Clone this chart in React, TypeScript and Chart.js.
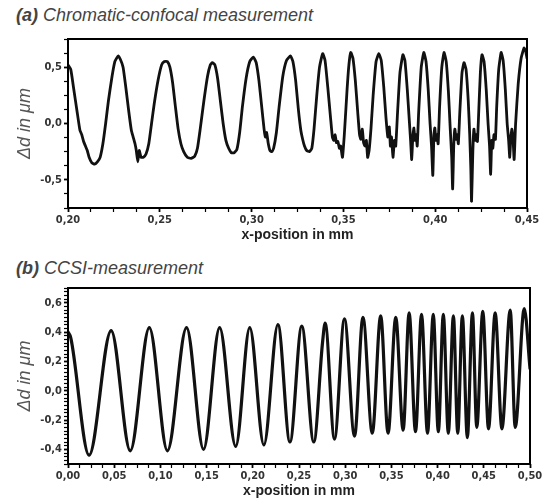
import React, { useEffect, useRef } from 'react';
import { Chart, registerables } from 'chart.js';

Chart.register(...registerables);

// ---------- Panel (a): chromatic-confocal measurement ----------
const aX = [
  0.2000, 0.2015, 0.2030, 0.2050, 0.2065, 0.2075, 0.2085, 0.2095, 0.2105, 0.2115, 0.2130, 0.2145, 0.2160, 0.2175, 0.2190, 0.2205, 0.2220, 0.2240, 0.2255, 0.2265,
  0.2273, 0.2285, 0.2300, 0.2315, 0.2330, 0.2345, 0.2355, 0.2365, 0.2372, 0.2380, 0.2388, 0.2398, 0.2410, 0.2425, 0.2440, 0.2455, 0.2470, 0.2490, 0.2510, 0.2525,
  0.2541, 0.2555, 0.2570, 0.2585, 0.2600, 0.2615, 0.2630, 0.2650, 0.2670, 0.2690, 0.2705, 0.2720, 0.2740, 0.2760, 0.2775,
  0.2786, 0.2800, 0.2815, 0.2830, 0.2845, 0.2860, 0.2875, 0.2890, 0.2905, 0.2920, 0.2935, 0.2950, 0.2970, 0.2990,
  0.3010, 0.3025, 0.3040, 0.3055, 0.3068, 0.3075, 0.3082, 0.3090, 0.3100, 0.3110, 0.3120, 0.3135, 0.3150, 0.3170, 0.3190,
  0.3212, 0.3225, 0.3240, 0.3255, 0.3268, 0.3278, 0.3288, 0.3300, 0.3315, 0.3328, 0.3340, 0.3355, 0.3370,
  0.3387, 0.3400, 0.3415, 0.3430, 0.3440, 0.3448, 0.3455, 0.3462, 0.3470, 0.3478, 0.3485, 0.3495, 0.3505, 0.3520, 0.3530,
  0.3540, 0.3552, 0.3565, 0.3578, 0.3588, 0.3595, 0.3603, 0.3610, 0.3618, 0.3625, 0.3632, 0.3640, 0.3650, 0.3662, 0.3678,
  0.3693, 0.3706, 0.3720, 0.3732, 0.3742, 0.3750, 0.3756, 0.3762, 0.3770, 0.3778, 0.3785, 0.3795, 0.3808,
  0.3824, 0.3835, 0.3848, 0.3858, 0.3866, 0.3872, 0.3878, 0.3884, 0.3890, 0.3896, 0.3902, 0.3910, 0.3924,
  0.3938, 0.3950, 0.3962, 0.3972, 0.3980, 0.3987, 0.3993, 0.3998, 0.4004, 0.4010, 0.4016, 0.4024, 0.4036,
  0.4048, 0.4060, 0.4072, 0.4082, 0.4090, 0.4095, 0.4101, 0.4107, 0.4114, 0.4120, 0.4126, 0.4134, 0.4146,
  0.4157, 0.4168, 0.4180, 0.4188, 0.4194, 0.4198, 0.4205, 0.4211, 0.4218, 0.4224, 0.4230, 0.4237, 0.4246,
  0.4255, 0.4266, 0.4278, 0.4288, 0.4296, 0.4302, 0.4308, 0.4314, 0.4320, 0.4328, 0.4335, 0.4346,
  0.4359, 0.4370, 0.4382, 0.4392, 0.4400, 0.4406, 0.4412, 0.4418, 0.4424, 0.4430, 0.4438, 0.4452, 0.4468,
  0.4484, 0.4493, 0.4500,
];
const aY = [
  0.52, 0.48, 0.32, 0.10, -0.06, -0.10, -0.16, -0.20, -0.24, -0.30, -0.35, -0.36, -0.34, -0.30, -0.18, 0.00, 0.20, 0.42, 0.55, 0.58,
  0.60, 0.57, 0.50, 0.32, 0.12, -0.06, -0.12, -0.18, -0.24, -0.34, -0.24, -0.30, -0.30, -0.27, -0.18, 0.00, 0.18, 0.38, 0.52, 0.55,
  0.55, 0.50, 0.36, 0.15, -0.05, -0.18, -0.25, -0.30, -0.31, -0.29, -0.22, -0.05, 0.20, 0.42, 0.52,
  0.54, 0.52, 0.40, 0.20, 0.00, -0.15, -0.22, -0.26, -0.26, -0.23, -0.08, 0.15, 0.40, 0.55,
  0.59, 0.54, 0.38, 0.15, -0.05, -0.12, -0.08, -0.17, -0.24, -0.25, -0.22, -0.08, 0.15, 0.42, 0.56,
  0.60, 0.55, 0.38, 0.12, -0.06, -0.14, -0.20, -0.24, -0.25, -0.22, -0.05, 0.25, 0.50,
  0.62, 0.56, 0.32, 0.05, -0.12, -0.15, -0.10, -0.17, -0.16, -0.22, -0.20, -0.30, -0.10, 0.30, 0.52,
  0.63, 0.58, 0.38, 0.10, -0.10, -0.14, -0.05, -0.17, -0.20, -0.15, -0.30, -0.24, -0.05, 0.25, 0.55,
  0.62, 0.56, 0.32, 0.05, -0.12, -0.03, -0.20, -0.12, -0.30, -0.15, -0.20, 0.10, 0.45,
  0.61, 0.56, 0.30, 0.05, -0.15, -0.32, -0.12, -0.04, -0.15, -0.10, -0.20, 0.10, 0.50,
  0.63, 0.55, 0.30, 0.00, -0.20, -0.46, -0.10, -0.04, -0.15, -0.10, -0.18, 0.15, 0.50,
  0.63, 0.55, 0.28, -0.05, -0.30, -0.58, -0.20, -0.05, -0.14, -0.10, -0.18, 0.10, 0.45,
  0.54, 0.48, 0.20, -0.10, -0.40, -0.69, -0.25, -0.05, -0.15, -0.10, -0.16, 0.10, 0.45,
  0.61, 0.55, 0.30, 0.00, -0.20, -0.45, -0.15, -0.22, -0.10, -0.14, 0.15, 0.48,
  0.63, 0.56, 0.30, 0.00, -0.15, -0.30, -0.12, -0.05, -0.14, -0.32, 0.00, 0.35, 0.58,
  0.67, 0.64, 0.58,
];
const aXMajor = [0.20, 0.25, 0.30, 0.35, 0.40, 0.45];
const aYMajor = [-0.5, 0.0, 0.5];

// ---------- Panel (b): CCSI measurement ----------
const bX = [
  0.0000, 0.0030, 0.0228, 0.0467, 0.0674, 0.0880, 0.1076, 0.1283, 0.1467, 0.1641, 0.1815, 0.1967, 0.2120, 0.2272, 0.2402, 0.2530,
  0.2660, 0.2755, 0.2783, 0.2884, 0.2992, 0.3101, 0.3192, 0.3293, 0.3384, 0.3464, 0.3547, 0.3627, 0.3692, 0.3761, 0.3826, 0.3891,
  0.3953, 0.4008, 0.4062, 0.4116, 0.4171, 0.4218, 0.4268, 0.4322, 0.4377, 0.4424, 0.4489, 0.4551, 0.4623, 0.4696, 0.4786, 0.4840,
  0.4938, 0.5000,
];
const bY = [
  0.40, 0.36, -0.44, 0.41, -0.41, 0.43, -0.41, 0.43, -0.40, 0.43, -0.38, 0.43, -0.37, 0.45, -0.35, 0.44,
  -0.35, 0.33, 0.46, -0.33, 0.49, -0.31, 0.50, -0.29, 0.51, -0.29, 0.50, -0.27, 0.53, -0.28, 0.52, -0.29,
  0.52, -0.28, 0.52, -0.29, 0.51, -0.29, 0.51, -0.32, 0.53, -0.25, 0.54, -0.26, 0.53, -0.26, 0.55, -0.25,
  0.56, 0.15,
];
const bXMajor = [0.00, 0.05, 0.10, 0.15, 0.20, 0.25, 0.30, 0.35, 0.40, 0.45, 0.50];
const bYMajor = [-0.4, -0.2, 0.0, 0.2, 0.4, 0.6];

const TICK_FONT = { family: "'Liberation Sans Narrow', 'DejaVu Sans Condensed', 'Liberation Sans', sans-serif", size: 11, weight: 'bold' as const };
const TEXT_FAMILY = "'Liberation Sans', Arial, sans-serif";

const isMajor = (v: number, majors: number[]) => majors.some((m) => Math.abs(m - v) < 1e-6);
const fmt = (v: number, dec: number) => {
  const x = Math.abs(v) < 1e-9 ? 0 : v;
  return x.toFixed(dec).replace('.', ',');
};

const framePlugin = {
  id: 'frame',
  afterDraw(chart: any) {
    const { ctx, chartArea } = chart;
    ctx.save();
    ctx.strokeStyle = '#000';
    ctx.lineWidth = 2;
    ctx.strokeRect(chartArea.left, chartArea.top, chartArea.right - chartArea.left, chartArea.bottom - chartArea.top);
    ctx.restore();
  },
};

type PanelProps = {
  xs: number[];
  ys: number[];
  xMin: number;
  xMax: number;
  xStep: number;
  xMajor: number[];
  xDec: number;
  yMin: number;
  yMax: number;
  yStep: number;
  yMajor: number[];
  yDec: number;
  width: number;
  height: number;
  padTop: number;
  padRight: number;
  xAxisHeight: number;
  lineWidth: number;
  monotone: boolean;
};

function Panel(p: PanelProps) {
  const ref = useRef<HTMLCanvasElement | null>(null);
  useEffect(() => {
    if (!ref.current) return;
    const data = p.xs.map((x, i) => ({ x, y: p.ys[i] }));
    const chart = new Chart(ref.current, {
      type: 'line',
      data: {
        datasets: [
          {
            data,
            borderColor: '#111',
            borderWidth: p.lineWidth,
            pointRadius: 0,
            fill: false,
            cubicInterpolationMode: p.monotone ? 'monotone' : 'default',
            tension: p.monotone ? 0 : 0.15,
            borderJoinStyle: 'round',
            borderCapStyle: 'round',
          },
        ],
      },
      options: {
        animation: false,
        responsive: false,
        devicePixelRatio: 1,
        events: [],
        layout: { padding: { left: 0, right: p.padRight, top: p.padTop, bottom: 0 } },
        plugins: { legend: { display: false }, tooltip: { enabled: false } },
        scales: {
          x: {
            type: 'linear',
            min: p.xMin,
            max: p.xMax,
            afterFit: (s: any) => {
              s.height = p.xAxisHeight;
            },
            border: { display: false },
            grid: {
              drawOnChartArea: false,
              drawTicks: true,
              tickLength: 4,
              color: '#000',
              tickWidth: (ctx: any) => (ctx.tick && isMajor(ctx.tick.value, p.xMajor) ? 1.8 : 1.2),
            },
            ticks: {
              stepSize: p.xStep,
              autoSkip: false,
              maxRotation: 0,
              minRotation: 0,
              padding: 2,
              color: '#333',
              font: TICK_FONT,
              callback: (v: any) => (isMajor(Number(v), p.xMajor) ? fmt(Number(v), p.xDec) : ''),
            },
            title: {
              display: true,
              text: 'x-position in mm',
              color: '#222',
              font: { family: TEXT_FAMILY, size: 14, weight: 'bold' },
              padding: { top: 0, bottom: 0 },
            },
          },
          y: {
            type: 'linear',
            min: p.yMin,
            max: p.yMax,
            afterFit: (s: any) => {
              s.width = 68;
            },
            border: { display: false },
            grid: {
              drawOnChartArea: false,
              drawTicks: true,
              tickLength: 4,
              color: '#000',
              tickWidth: (ctx: any) => (ctx.tick && isMajor(ctx.tick.value, p.yMajor) ? 1.8 : 1.2),
            },
            ticks: {
              stepSize: p.yStep,
              autoSkip: false,
              padding: 2,
              color: '#333',
              font: TICK_FONT,
              callback: (v: any) => (isMajor(Number(v), p.yMajor) ? fmt(Number(v), p.yDec) : ''),
            },
            title: {
              display: true,
              text: 'Δd in μm',
              color: '#555',
              font: { family: TEXT_FAMILY, size: 18, style: 'italic', weight: 'normal' },
              padding: { top: 14, bottom: 0 },
            },
          },
        },
      } as any,
      plugins: [framePlugin],
    });
    return () => chart.destroy();
  }, []);
  return <canvas ref={ref} width={p.width} height={p.height} style={{ display: 'block', width: p.width, height: p.height }} />;
}

const titleStyle: React.CSSProperties = {
  position: 'absolute',
  left: 16,
  fontFamily: TEXT_FAMILY,
  fontSize: 18,
  fontStyle: 'italic',
  color: '#444',
  whiteSpace: 'nowrap',
  lineHeight: '20px',
};

export default function App() {
  return (
    <div style={{ position: 'absolute', left: 0, top: 0, width: 545, height: 501, background: '#fff', overflow: 'hidden' }}>
      <div style={{ ...titleStyle, top: 5 }}>
        <b>(a)</b> Chromatic-confocal measurement
      </div>
      <div style={{ position: 'absolute', left: 0, top: 28 }}>
        <Panel
          xs={aX}
          ys={aY}
          xMin={0.2}
          xMax={0.45}
          xStep={0.0125}
          xMajor={aXMajor}
          xDec={2}
          yMin={-0.75}
          yMax={0.75}
          yStep={0.125}
          yMajor={aYMajor}
          yDec={1}
          width={545}
          height={216}
          padTop={11}
          padRight={18}
          xAxisHeight={36}
          lineWidth={2.8}
          monotone={false}
        />
      </div>
      <div style={{ ...titleStyle, top: 258 }}>
        <b>(b)</b> CCSI-measurement
      </div>
      <div style={{ position: 'absolute', left: 0, top: 276 }}>
        <Panel
          xs={bX}
          ys={bY}
          xMin={0}
          xMax={0.5}
          xStep={0.0125}
          xMajor={bXMajor}
          xDec={2}
          yMin={-0.5}
          yMax={0.7}
          yStep={0.025}
          yMajor={bYMajor}
          yDec={1}
          width={545}
          height={224}
          padTop={12}
          padRight={15}
          xAxisHeight={36}
          lineWidth={3.2}
          monotone={true}
        />
      </div>
    </div>
  );
}
